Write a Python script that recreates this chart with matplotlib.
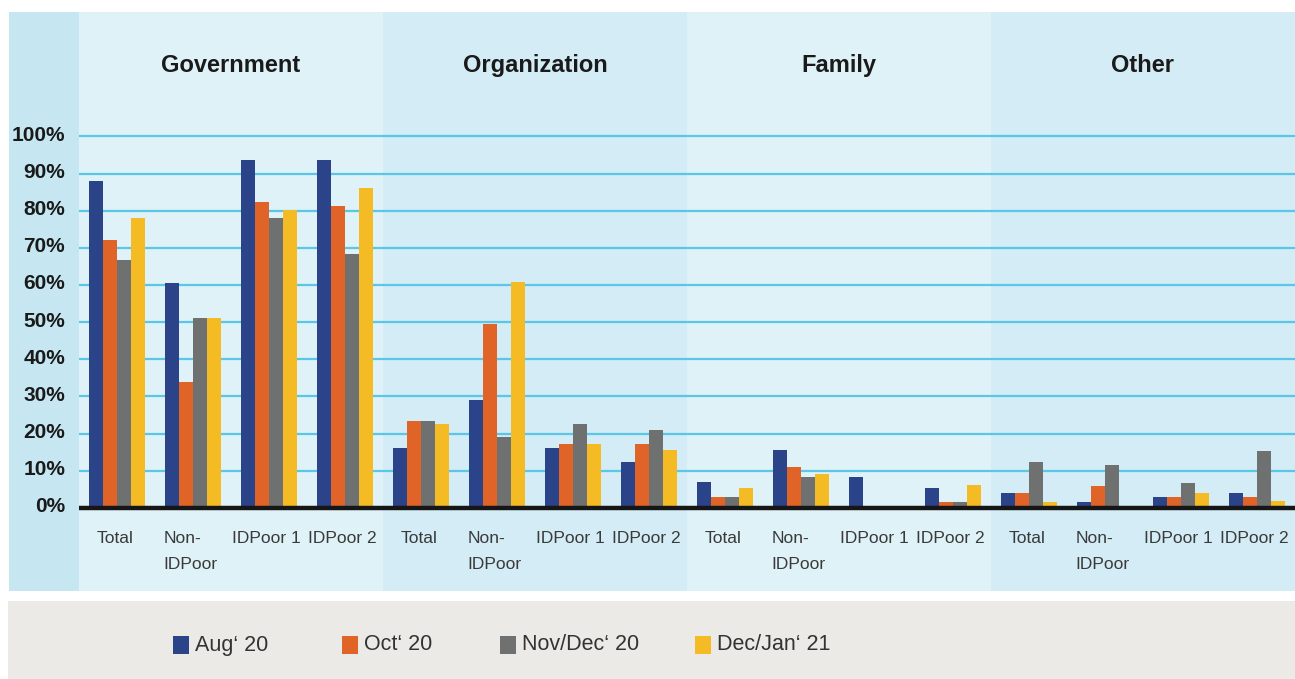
import matplotlib
matplotlib.use("Agg")
import matplotlib.pyplot as plt
from matplotlib.patches import Rectangle
from matplotlib.transforms import ScaledTranslation
import numpy as np

plt.rcParams['font.family'] = ['Liberation Sans', 'DejaVu Sans']

sections = ["Government", "Organization", "Family", "Other"]
groups = ["Total", "Non-\nIDPoor", "IDPoor 1", "IDPoor 2"]
series = ["Aug‘ 20", "Oct‘ 20", "Nov/Dec‘ 20", "Dec/Jan‘ 21"]
colors = ["#2B4389", "#E06327", "#6F7170", "#F5BB25"]

# values per series, ordered: Government(Total, Non-IDPoor, IDPoor1, IDPoor2), Organization(...), Family(...), Other(...)
aug20 = [88, 60.5, 93.6, 93.6,   16, 29, 16, 12.3,   7, 15.5, 8.3, 5.3,   4, 1.5, 3, 4]
oct20 = [72, 34, 82.3, 81.2,     23.3, 49.5, 17.1, 17.1,   3, 11, 0, 1.5,   4, 5.8, 3, 3]
novdec20 = [66.7, 51.2, 78, 68.3, 23.3, 19, 22.5, 20.9,  3, 8.3, 0, 1.5,   12.3, 11.5, 6.7, 15.2]
decjan21 = [78, 51.2, 80.2, 86.1, 22.5, 60.8, 17.1, 15.5, 5.3, 9.1, 0, 6.1,  1.5, 0, 4, 1.8]
values = [aug20, oct20, novdec20, decjan21]

yticks = list(range(0, 101, 10))
ytick_labels = [f"{v}%" for v in yticks]

W, H = 1295, 679
fig = plt.figure(figsize=(W / 100, H / 100), dpi=100)
fig.patch.set_facecolor("white")

# left label strip
fig.add_artist(Rectangle((9 / W, (H - 591) / H), (79 - 9) / W, (591 - 12) / H,
                         transform=fig.transFigure, facecolor="#C6E7F1", edgecolor="none", zorder=0))
# legend box
fig.add_artist(Rectangle((8 / W, 0), (W - 8) / W, (679 - 601) / H,
                         transform=fig.transFigure, facecolor="#EBEAE6", edgecolor="none", zorder=0))

ax = fig.add_axes([79 / W, (H - 591) / H, (W - 79) / W, (591 - 12) / H])
ax.set_xlim(0, 16)
ax.set_ylim(-22.4, 133.5)
ax.set_facecolor("none")
for s in ax.spines.values():
    s.set_visible(False)

band_colors = ["#DFF2F8", "#D3ECF5"]
for i in range(4):
    ax.axvspan(4 * i, 4 * i + 4, color=band_colors[i % 2], zorder=0, lw=0)

for v in yticks[1:]:
    ax.axhline(v, color="#5AC7E8", lw=1.6, zorder=1)

n = len(series)
bw = 14 / 76
x = np.arange(16) + 0.5
for k in range(n):
    ax.bar(x + (k - (n - 1) / 2) * bw, values[k], width=bw, color=colors[k], zorder=2, lw=0)

ax.axhline(0, color="#161616", lw=3.2, zorder=3)

ax.set_xticks([])
ax.set_yticks(yticks)
ax.set_yticklabels(ytick_labels, fontsize=15, fontweight="bold", color="#1A1A1A")
ax.tick_params(axis="y", length=0, pad=10)
off = ScaledTranslation(0, 3 / 100, fig.dpi_scale_trans)
for lbl in ax.get_yticklabels():
    lbl.set_transform(lbl.get_transform() + off)

for i, name in enumerate(sections):
    ax.text(4 * i + 2, 119.0, name, ha="center", va="center", fontsize=17,
            fontweight="bold", color="#1A1A1A")

for j in range(16):
    ax.text(j + 0.47, -6.3, groups[j % 4], ha="center", va="top", fontsize=12.5,
            color="#3A3A3A", multialignment="left", linespacing=1.9)

# legend
leg_x = [173, 342, 500, 695]
for k in range(n):
    fig.add_artist(Rectangle((leg_x[k] / W, (H - 654) / H), 16 / W, 18 / H,
                             transform=fig.transFigure, facecolor=colors[k], edgecolor="none"))
    fig.text((leg_x[k] + 22) / W, (H - 645) / H, series[k], ha="left", va="center",
             fontsize=15.5, color="#333333")

fig.savefig("out.png", dpi=100)
